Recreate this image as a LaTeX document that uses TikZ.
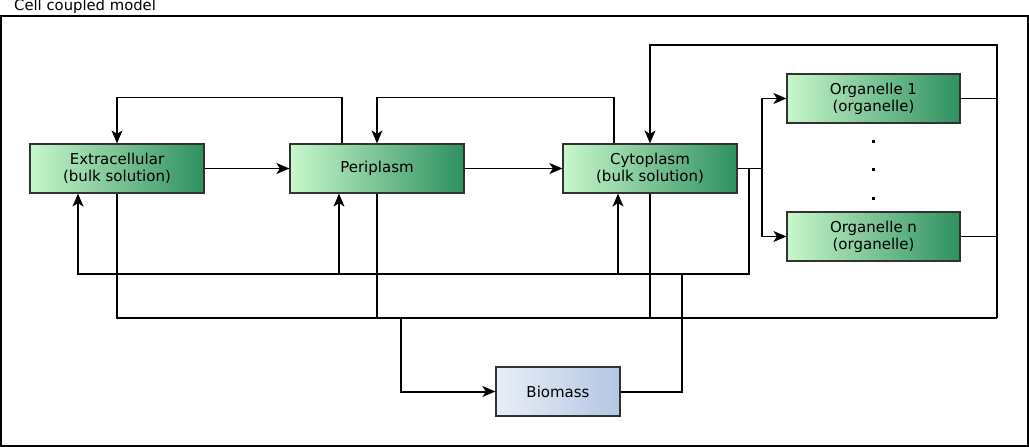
\documentclass[tikz,border=0pt]{standalone}
\usepackage{fontspec}
\setmainfont{DejaVu Sans}
\usetikzlibrary{arrows.meta,calc}
\definecolor{gl}{RGB}{200,247,203}
\definecolor{gr}{RGB}{46,144,96}
\definecolor{bl}{RGB}{232,238,247}
\definecolor{br}{RGB}{180,198,227}
\definecolor{edge}{RGB}{50,50,50}
\begin{document}
\begin{tikzpicture}[x=1pt,y=-1pt,
  compbox/.style={draw=edge, line width=1.2pt, rectangle, minimum width=174pt, minimum height=49pt,
    left color=gl, right color=gr, align=center, font=\fontsize{15}{17}\selectfont, inner sep=0pt},
  biobox/.style={compbox, minimum width=124pt, left color=bl, right color=br},
  conn/.style={line width=1.1pt, black},
  arr/.style={conn, -{Stealth[length=13pt,width=11pt,inset=3.5pt]}},
  thickconn/.style={line width=2pt, black},
  dotmark/.style={fill=black, minimum size=3pt, inner sep=0pt, rectangle}]
\useasboundingbox (0,0) rectangle (1029,447);
\draw[line width=1.1pt] (1,16) rectangle (1028,446);
\node[anchor=west, font=\fontsize{14.8}{16}\selectfont, inner sep=0pt] (title) at (14,6.5) {Cell coupled model};

\node[compbox] (ext) at (117,168.5) {Extracellular\\(bulk solution)};
\node[compbox] (peri) at (377,168.5) {Periplasm};
\node[compbox] (cyto) at (650,168.5) {Cytoplasm\\(bulk solution)};
\node[compbox, minimum width=173pt] (org1) at (873.5,98.5) {Organelle 1\\(organelle)};
\node[compbox, minimum width=173pt] (orgn) at (873.5,236.5) {Organelle n\\(organelle)};
\node[biobox] (bio) at (558,391.5) {Biomass};

\node[dotmark] (d1) at (873,141) {};
\node[dotmark] (d2) at (873,169.5) {};
\node[dotmark] (d3) at (873,198) {};

\coordinate (rt) at (997,45);
\coordinate (rb) at (997,318);
\coordinate (sp) at (762,168.5);
\coordinate (ret) at (749,274);
\coordinate (bin) at (401,318);
\coordinate (bout) at (682,274);

% forward flow
\draw[arr] (ext.east) -- (peri.west);
\draw[arr] (peri.east) -- (cyto.west);
% top back-loops
\draw[arr] ([xshift=-35pt]peri.north) -- ++(0,-46) -| (ext.north);
\draw[arr] ([xshift=-36pt]cyto.north) -- ++(0,-46) -| (peri.north);
\draw[arr] (org1.east) -| (rt) -| (cyto.north);
% right side and bottom collector
\draw[conn] (rt) -- (rb);
\draw[conn] (orgn.east) -- (orgn.east -| rb);
\draw[conn] (rb) -| (ext.south);
\draw[conn] (peri.south) -- (peri.south |- rb);
\draw[conn] (cyto.south) -- (cyto.south |- rb);
% split to organelles
\draw[conn] (cyto.east) -- (sp);
\draw[arr] (sp) |- (org1.west);
\draw[arr] (sp) |- (orgn.west);
% return line
\draw[arr] (cyto.east -| ret) -- (ret) -| ([xshift=-39pt]ext.south);
\draw[arr] ([xshift=-38pt]peri.south |- ret) -- ([xshift=-38pt]peri.south);
\draw[arr] ([xshift=-32pt]cyto.south |- ret) -- ([xshift=-32pt]cyto.south);
% biomass
\draw[thickconn, -{Stealth[length=13pt,width=11pt,inset=3.5pt]}] (bin) |- (bio.west);
\draw[thickconn] (bio.east) -| (bout);
\end{tikzpicture}
\end{document}
